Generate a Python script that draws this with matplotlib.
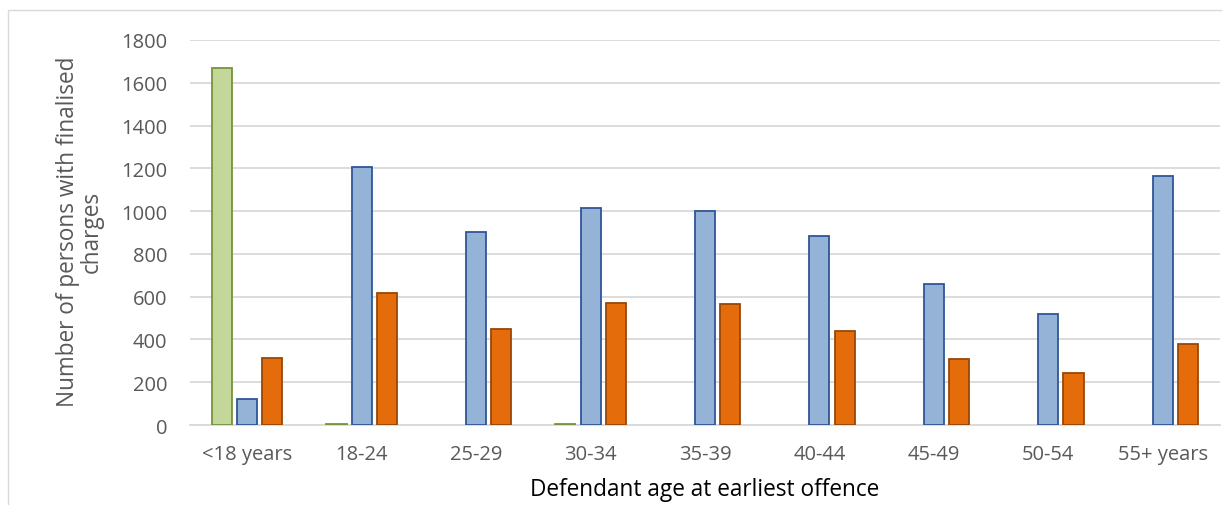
import matplotlib
matplotlib.use("Agg")
import matplotlib.pyplot as plt
import numpy as np
from matplotlib.patches import Rectangle

categories = ["<18 years", "18-24", "25-29", "30-34", "35-39", "40-44", "45-49", "50-54", "55+ years"]
series_green = [1670, 5, 0, 3, 0, 0, 0, 0, 0]
series_blue = [120, 1205, 902, 1014, 1000, 883, 658, 518, 1164]
series_orange = [312, 617, 450, 570, 566, 438, 308, 243, 380]
y_ticks = [0, 200, 400, 600, 800, 1000, 1200, 1400, 1600, 1800]

plt.rcParams['font.family'] = ['Open Sans', 'DejaVu Sans']

W, H = 1222, 506
fig = plt.figure(figsize=(W / 100, H / 100), dpi=100)
ax = fig.add_axes([190 / W, 1 - 426 / H, 1030 / W, 385 / H])

x = np.arange(len(categories))
bw = 0.175
off = 0.22
specs = [
    (series_green, -off, "#C4D79B", "#77933C"),
    (series_blue, 0, "#95B3D7", "#2F5597"),
    (series_orange, off, "#E46C0A", "#984807"),
]
for vals, dx, fc, ec in specs:
    v = np.array(vals, dtype=float)
    v = np.where(v > 0, v, np.nan)
    ax.bar(x + dx, v, width=bw, color=fc, edgecolor=ec, linewidth=1.3, zorder=3)

ax.set_xlim(-0.5, len(categories) - 0.5)
ax.set_ylim(0, 1800)
ax.set_yticks(y_ticks)
ax.set_yticklabels([str(t) for t in y_ticks])
ax.set_xticks(x)
ax.set_xticklabels(categories)
ax.grid(axis='y', color='#D9D9D9', linewidth=1.3, zorder=0)
for s in ['top', 'right', 'left']:
    ax.spines[s].set_visible(False)
ax.spines['bottom'].set_color('#D9D9D9')
ax.spines['bottom'].set_linewidth(1.3)
ax.tick_params(axis='both', length=0, labelsize=14.5, colors='#595959')
ax.tick_params(axis='y', pad=16.5)
ax.tick_params(axis='x', pad=14)

ax.set_xlabel("Defendant age at earliest offence", fontsize=16.3, color='#000000', labelpad=9)
fig.text(80 / W, 1 - 232 / H, "Number of persons with finalised\ncharges", rotation=90,
         ha='center', va='center', fontsize=16.3, color='#595959', multialignment='center',
         linespacing=1.0)

fig.patches.append(Rectangle((8 / W, -0.1), 1.2, 1 - 11 / H + 0.1, transform=fig.transFigure,
                             fill=False, edgecolor='#D9D9D9', linewidth=1.0))

fig.savefig("out.png", dpi=100)
